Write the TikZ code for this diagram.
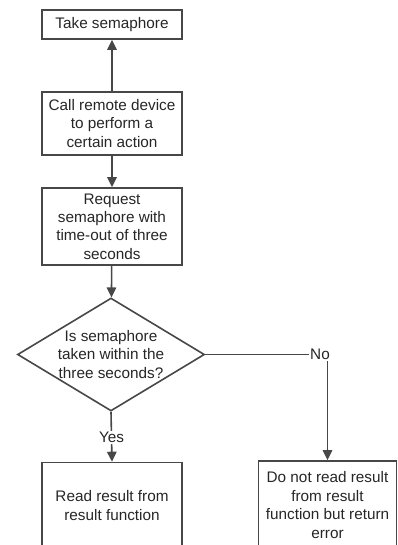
\documentclass[tikz,border=0pt]{standalone}
\usepackage{fontspec}
\setmainfont{Liberation Sans}
\usetikzlibrary{arrows.meta,shapes.geometric}
\begin{document}
\begin{tikzpicture}[x=1pt,y=-1pt,
  every node/.style={font=\fontsize{15.3}{18.4}\selectfont, text=black!85},
  stepbox/.style={draw=black!72, line width=1.6pt, align=center, inner sep=0pt},
  conn/.style={draw=black!72, line width=1.6pt},
  arr/.style={conn, -{Triangle[length=10pt,width=9.5pt]}},
  lbl/.style={fill=white, inner sep=1pt}]
\useasboundingbox (0,0) rectangle (397,545);
\node[stepbox, minimum width=140, minimum height=29] (take) at (112,24.5) {Take semaphore};
\node[stepbox, minimum width=140, minimum height=63] (call) at (112,123.5) {Call remote device\\to perform a\\certain action};
\node[stepbox, minimum width=140, minimum height=77] (req) at (112,226.5) {Request\\semaphore with\\time-out of three\\seconds};
\node[draw=black!72, line width=1.6pt, diamond, aspect=1.65, minimum width=187, minimum height=113, inner sep=0pt, align=center] (dia) at (111,354.5) {Is semaphore\\taken within the\\three seconds?};
\node[stepbox, minimum width=140, minimum height=86] (read) at (112,505.5) {Read result from\\result function};
\node[stepbox, minimum width=138, minimum height=88] (donot) at (327.5,505) {Do not read result\\from result\\function but return\\error};
\coordinate (nc) at (327.5,354.5);
\draw[arr] (call) -- (take);
\draw[arr] (call) -- (req);
\draw[arr] (req) -- (dia);
\draw[arr] (dia.east) -- (nc) -- (donot.north);
\node[lbl] (no) at (320,354.5) {No};
\draw[arr] (dia.south) -- (read.north) node[lbl, pos=0.51] (yes) {Yes};
\end{tikzpicture}
\end{document}
